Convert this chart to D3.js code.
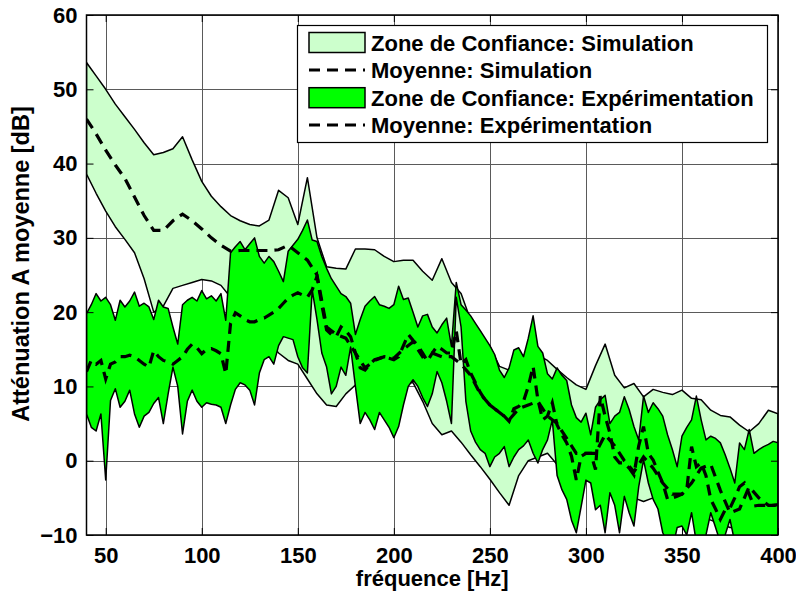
<!DOCTYPE html>
<html><head><meta charset="utf-8">
<script src="https://cdn.jsdelivr.net/npm/d3@7"></script>
<style>body{margin:0;background:#fff}svg{display:block}</style>
</head><body>
<svg id="c" width="796" height="594"></svg>
<script>
// ---- data ----
const simFreq = d3.range(40, 400.01, 5);
const simUpper = [53.6,51.8,50,48,46.3,44.6,42.8,41.2,41.5,42,43.6,40.5,37.6,35.6,34.2,33,32.3,31.8,31.6,32.4,36.4,35.4,31.8,38.1,30,26.1,25.9,25.8,28.5,28.5,28.4,27.5,26.8,27,27,25.5,24.3,27.2,24,22.5,18.9,17.2,15.4,12.7,12.2,12,13,14.2,13.5,12.3,11.2,10.2,9.6,12.8,15.7,11.5,9.8,10.4,8.6,9.6,9.2,8.9,9.5,8.4,8.2,6.8,6.1,5.9,4.8,3.9,5,6.8,6.3];
const simLower = [38.6,36,33.6,31.5,29.8,28,24.5,20,20.8,23.2,23.6,24,24.4,24.2,23.6,22,20,18,17,16,14.5,13.5,13,11,9,7.5,7.3,9,10.2,10.5,10.8,11,10.8,10.5,10.5,8,5,3.5,4,2.5,0.8,-0.8,-2.5,-4.3,-6,-2,0,0.5,1,-0.5,-2,-3,-2.5,-1.5,-2,-3,-4,-5,-5.5,-5,-6,-6.5,-7,-7,-7.5,-8,-8.5,-9,-9,-9.5,-10,-10,-10.5];
const simMean = [46,44,41.8,39.8,38,35.5,33,31,31,32.3,33.2,32.3,31.2,30,29,28.2,28.3,28.3,28.3,28.3,28.4,29,28,27,25,18,17,16.5,14.5,12.5,13.5,14,13.8,15,16,14,14.5,14,14,13,11.5,9,7.5,6.5,5.5,7,7.5,8,6,5,3,1,1,1,3.5,2,0,-1.5,0.5,-1,-3,-4.5,-4.5,-3,-1,-0.5,-4,-7,-6.5,-3.5,-5,-6,-6];

const expFreq = d3.range(40, 400.01, 2.5);
const expUpper = [19.8,21,22.5,21.5,22,21,18.9,21.6,20.7,21.5,22.7,20.8,21.2,20.7,19,21.6,20.7,20.5,18,15.7,21,21.6,22,21.5,22.9,21.8,22.2,21.5,22.5,18.9,28,28.8,29.5,28.4,29.2,30,27.5,26.6,27.5,26.8,25.5,24.1,28.2,29,29.8,31,32.4,29.7,29.5,27.5,25.9,24.5,23.5,22.5,22.1,21.2,17,19,20.8,21.5,22.1,21,20.8,20.5,21,23.5,21.7,21.9,20,18,19.5,19.7,18,17.2,18.3,19.2,15.4,24,21,20.3,19.5,18.5,17.5,16.5,15.5,14.3,12.2,11.2,12.5,14.9,15.2,14,16.5,19.5,15.4,14.5,11.7,11,12.5,11.5,10.8,7.5,5.8,5.2,6.4,3.5,7.2,8.2,8.8,5,6,6.5,8.6,6.9,4.6,2.8,8.7,6.5,7.8,7,6,3.5,1.5,-0.8,3.3,4.5,5.5,8.7,5.5,2.8,3.3,3,2.4,0.8,-1,-3,2.4,1.5,4.2,1,1.5,1.9,2.2,2.6,2.4];
const expLower = [6.3,4.5,4,6.3,-2.6,8.1,9.7,7.2,8,9.5,6.3,4.5,6,6.5,7.7,8.5,5,9,12.6,10,3.6,8,9.5,8,7.2,7.8,7.6,7.5,7.2,5,7.5,9.6,10.5,10.2,9.5,7.5,11.8,13.6,14,13,15.5,16.7,16.5,16.3,14,12.5,11.8,23,19,14.5,12.6,9,10,12.6,11.5,15.3,10,5,6.5,5.5,4.2,6.5,5.5,4.5,3.1,4.6,7.5,10,10.9,10,8.5,7.3,9,12,10.5,8,5,22,18,8,4,2.5,1.5,1,-0.8,0.5,1,1.9,-0.8,0.5,1.5,2,2.8,1,-0.3,1.5,2.8,5.5,-2,-3.9,-5.2,-8,-9.7,-6.2,-2.6,-3,-6.6,-6,-9.7,-4.3,-6,-9.7,-4.8,-7,-8.8,-3.5,0.1,-3,-5.2,-6.5,-9.7,-11,-12,-9,-8.8,-10,-7,-11,-12,-10,-7,-9,-11,-10,-7.9,-11,-12,-10.5,-12,-11,-12,-11,-12,-11,-11];
const expMean = [12,13.5,13,13.5,11,13,13.3,14,14,14.2,14,13.5,13,12.6,14.8,14,13.5,13.3,13,13.5,14,15,15.7,15.2,14.4,15,15.1,14.8,14.4,11.7,18.5,19.9,19.5,19,18.7,18.7,19,19.2,19.6,20,20.5,21.2,21.9,22.3,22.6,22.3,22,23,24.8,21,17.6,17,16.7,18,17.5,16.7,14.5,12.5,12.2,13,13.6,13.8,14,13.8,13.6,14,15.5,17,16.2,15.5,14.5,13.4,14.5,15.4,15,14.5,14.5,17.5,13,13.6,11.8,10.5,9.2,8.2,7.5,7,6.5,6,5.3,7,7.3,8,10,12.7,8.2,5.5,6,7.8,4.8,3.5,2.4,0.6,-2.6,0.6,1,1,-1.2,8.7,6,3.7,0.5,-0.3,-0.3,-1,-1.9,2,4.6,1,0.1,-1.5,-3,-5.2,-5,-4.8,-4.5,-3.9,1.9,-0.8,-0.3,-2,-5.2,-6.5,-7.9,-6.6,-6.4,-5,-3.5,-3,-4.5,-6.1,-6,-6,-6,-6,-5.9];

const xTicks = [50,100,150,200,250,300,350,400];
const yTicks = [-10,0,10,20,30,40,50,60];
const legendLabels = ["Zone de Confiance: Simulation","Moyenne: Simulation","Zone de Confiance: Expérimentation","Moyenne: Expérimentation"];

// ---- layout ----
const L = 86.5, R = 778, T = 15, B = 535;
const FONT = "'Liberation Sans', Arial, Helvetica, sans-serif";
const svg = d3.select("#c");
const x = d3.scaleLinear().domain([40, 400]).range([L, R]);
const y = d3.scaleLinear().domain([-10, 60]).range([B, T]);

svg.append("defs").append("clipPath").attr("id","clip")
  .append("rect").attr("x", L).attr("y", T).attr("width", R - L).attr("height", B - T);

// grid
const grid = svg.append("g").attr("stroke", "#5a5a5a").attr("stroke-width", 1);
grid.selectAll(".gx").data(xTicks).join("line")
  .attr("x1", d => Math.round(x(d)) + 0.5).attr("x2", d => Math.round(x(d)) + 0.5)
  .attr("y1", T).attr("y2", B);
grid.selectAll(".gy").data(yTicks).join("line")
  .attr("y1", d => Math.round(y(d)) + 0.5).attr("y2", d => Math.round(y(d)) + 0.5)
  .attr("x1", L).attr("x2", R);

const plot = svg.append("g").attr("clip-path", "url(#clip)");

function band(freq, lo, hi) {
  return d3.area().x((d, i) => x(freq[i])).y0((d, i) => y(lo[i])).y1((d, i) => y(hi[i]))(freq);
}
function ln(freq, vals) {
  return d3.line().x((d, i) => x(freq[i])).y((d, i) => y(vals[i]))(freq);
}

plot.append("path").attr("d", band(simFreq, simLower, simUpper))
  .attr("fill", "#ccffcc").attr("stroke", "#000").attr("stroke-width", 1.5).attr("stroke-linejoin", "round");
plot.append("path").attr("d", band(expFreq, expLower, expUpper))
  .attr("fill", "#00ff00").attr("stroke", "#000").attr("stroke-width", 1.5).attr("stroke-linejoin", "round");
plot.append("path").attr("d", ln(simFreq, simMean))
  .attr("fill", "none").attr("stroke", "#000").attr("stroke-width", 3.2).attr("stroke-dasharray", "11,7");
plot.append("path").attr("d", ln(expFreq, expMean))
  .attr("fill", "none").attr("stroke", "#000").attr("stroke-width", 3.2).attr("stroke-dasharray", "11,7");

// axes box & ticks
const xAxisB = d3.axisBottom(x).tickValues(xTicks).tickSize(-7).tickPadding(12).tickFormat(d3.format("d"));
const yAxisL = d3.axisLeft(y).tickValues(yTicks).tickSize(-7).tickPadding(9).tickFormat(d => d < 0 ? "\u2212" + Math.abs(d) : d);
const gx = svg.append("g").attr("transform", `translate(0,${B})`).call(xAxisB);
const gy = svg.append("g").attr("transform", `translate(${L},0)`).call(yAxisL);
svg.append("g").attr("transform", `translate(0,${T})`).call(d3.axisTop(x).tickValues(xTicks).tickSize(-7).tickFormat(""));
svg.append("g").attr("transform", `translate(${R},0)`).call(d3.axisRight(y).tickValues(yTicks).tickSize(-7).tickFormat(""));
svg.selectAll(".domain").remove();
svg.selectAll(".tick line").attr("stroke", "#000").attr("stroke-width", 1);
[gx, gy].forEach(g => g.selectAll("text").attr("font-family", FONT).attr("font-size", 22).attr("font-weight", "bold").attr("fill", "#000"));
svg.append("rect").attr("x", L).attr("y", T).attr("width", R - L).attr("height", B - T)
  .attr("fill", "none").attr("stroke", "#000").attr("stroke-width", 1.5);

// axis labels
svg.append("text").attr("x", (L + R) / 2).attr("y", 586).attr("text-anchor", "middle")
  .attr("font-family", FONT).attr("font-size", 22).attr("font-weight", "bold").text("fréquence [Hz]");
svg.append("text").attr("transform", `translate(29,264) rotate(-90)`).attr("text-anchor", "middle")
  .attr("font-family", FONT).attr("font-size", 23.5).attr("font-weight", "bold").text("Atténuation A moyenne [dB]");

// legend
const lg = svg.append("g");
lg.append("rect").attr("x", 297.5).attr("y", 25.5).attr("width", 470).attr("height", 117)
  .attr("fill", "#fff").attr("stroke", "#000").attr("stroke-width", 1.2);
const rowY = [42.5, 70, 97.7, 125];
const kinds = ["simBand", "simMean", "expBand", "expMean"];
kinds.forEach((k, i) => {
  const cy = rowY[i];
  if (k.endsWith("Band")) {
    lg.append("rect").attr("x", 309).attr("y", cy - 10).attr("width", 56).attr("height", 20)
      .attr("fill", k === "simBand" ? "#ccffcc" : "#00ff00").attr("stroke", "#000").attr("stroke-width", 1.5);
  } else {
    lg.append("line").attr("x1", 309).attr("x2", 365).attr("y1", cy).attr("y2", cy)
      .attr("stroke", "#000").attr("stroke-width", 3.2).attr("stroke-dasharray", "11,7");
  }
  lg.append("text").attr("x", 371).attr("y", cy + 8).attr("font-family", FONT).attr("font-size", 22)
    .attr("font-weight", "bold").text(legendLabels[i]);
});
</script>
</body></html>
